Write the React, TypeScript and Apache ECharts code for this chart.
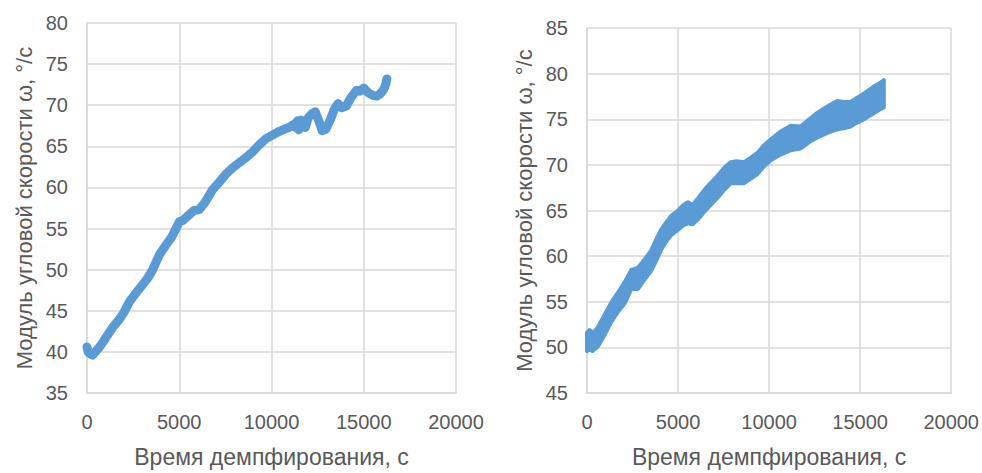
import React, { useEffect, useRef } from "react";
import * as echarts from "echarts";

// Left chart: single thick line
const leftTime = [0, 60, 150, 300, 450, 683, 900, 1100, 1400, 1700, 2000, 2300, 2600, 3020, 3300, 3560, 3920, 4280, 4600, 5000, 5200, 5500, 5800, 6080, 6400, 6800, 7150, 7520, 7900, 8240, 8600, 8960, 9300, 9680, 10000, 10400, 10700, 10950, 11150, 11300, 11400, 11480, 11600, 11700, 11830, 12000, 12200, 12370, 12550, 12750, 12950, 13200, 13400, 13600, 13800, 14050, 14300, 14600, 14800, 15000, 15250, 15500, 15700, 15900, 16100, 16200, 16250];
const leftOmega = [40.6, 40.0, 39.8, 39.6, 40.0, 40.6, 41.3, 42.0, 43.0, 43.8, 44.8, 46.1, 47.0, 48.2, 49.0, 50.0, 51.8, 53.0, 54.0, 55.8, 56.0, 56.6, 57.2, 57.3, 58.2, 59.7, 60.6, 61.6, 62.4, 63.0, 63.6, 64.3, 65.1, 65.9, 66.3, 66.8, 67.1, 67.3, 67.6, 67.3, 68.1, 67.0, 68.2, 67.4, 67.3, 68.5, 69.0, 69.2, 68.2, 66.9, 67.1, 68.3, 69.5, 70.2, 69.7, 69.9, 70.9, 71.8, 71.7, 72.1, 71.5, 71.2, 71.1, 71.4, 72.0, 72.6, 73.2];

// Right chart: band (lower / upper envelope)
const rightTime = [0, 150, 300, 600, 1000, 1330, 1700, 2060, 2430, 2790, 3150, 3520, 3800, 4070, 4350, 4620, 5000, 5300, 5550, 5800, 6080, 6500, 7170, 7550, 7900, 8200, 8630, 9000, 9360, 9700, 10090, 10600, 11190, 11730, 12200, 12650, 13200, 13740, 14100, 14470, 14800, 15200, 15700, 16100, 16300];
const rightLower = [49.6, 49.8, 49.6, 50.1, 51.5, 52.8, 53.9, 54.8, 56.4, 56.4, 57.4, 58.4, 59.5, 60.7, 61.6, 62.3, 62.9, 63.4, 63.6, 63.5, 64.0, 65.0, 66.4, 67.3, 68.0, 68.0, 68.0, 68.5, 69.0, 69.8, 70.5, 71.1, 71.6, 71.8, 72.5, 73.0, 73.5, 73.9, 74.0, 74.2, 74.6, 75.0, 75.6, 76.1, 76.3];
const rightUpper = [51.6, 51.9, 51.5, 52.2, 53.7, 54.9, 56.0, 57.1, 58.5, 58.7, 59.6, 60.6, 61.8, 62.9, 63.7, 64.4, 65.0, 65.6, 65.9, 65.6, 66.3, 67.4, 68.8, 69.7, 70.3, 70.4, 70.3, 70.8, 71.3, 72.1, 72.8, 73.6, 74.3, 74.2, 75.0, 75.7, 76.4, 77.0, 76.9, 76.9, 77.3, 77.8, 78.5, 79.0, 79.3];

const xTicks = { min: 0, max: 20000, interval: 5000 };
const leftY = { min: 35, max: 80, interval: 5 };
const rightY = { min: 45, max: 85, interval: 5 };

const xName = "Время демпфирования, с";
const yName = "Модуль угловой скорости ω, °/с";

const BLUE = "#5B9BD5";
const GRID = "#d9d9d9";
const TEXT = "#595959";
const FONT = "Liberation Sans";

function xAxis(gridIndex: number) {
  return {
    type: "value" as const,
    gridIndex,
    ...xTicks,
    name: xName,
    nameLocation: "middle" as const,
    nameGap: 52,
    nameTextStyle: { color: TEXT, fontSize: 23, fontFamily: FONT },
    axisLine: { show: true, lineStyle: { color: GRID, width: 1.5 } },
    axisTick: { show: false },
    axisLabel: {
      color: TEXT,
      fontSize: 20,
      fontFamily: FONT,
      margin: 19,
      formatter: (v: number) => String(v),
    },
    splitLine: { show: true, lineStyle: { color: GRID, width: 1.5 } },
  };
}

function yAxis(gridIndex: number, r: { min: number; max: number; interval: number }, gap: number) {
  return {
    type: "value" as const,
    gridIndex,
    ...r,
    name: yName,
    nameLocation: "middle" as const,
    nameGap: gap,
    nameTextStyle: { color: TEXT, fontSize: 22, fontFamily: FONT },
    axisLine: { show: true, lineStyle: { color: GRID, width: 1.5 } },
    axisTick: { show: false },
    axisLabel: { color: TEXT, fontSize: 20, fontFamily: FONT, margin: 19 },
    splitLine: { show: true, lineStyle: { color: GRID, width: 1.5 } },
  };
}

export default function App() {
  const ref = useRef<HTMLDivElement>(null);
  useEffect(() => {
    if (!ref.current) return;
    const chart = echarts.init(ref.current, undefined, { renderer: "svg" });
    const leftData = leftTime.map((t, i) => [t, leftOmega[i]]);
    chart.setOption({
      animation: false,
      backgroundColor: "#ffffff",
      grid: [
        { left: 87, top: 23, width: 369, height: 373 },
        { left: 587, top: 28, width: 365, height: 369 },
      ],
      xAxis: [xAxis(0), xAxis(1)],
      yAxis: [yAxis(0, leftY, 52), yAxis(1, rightY, 52)],
      series: [
        {
          type: "line",
          xAxisIndex: 0,
          yAxisIndex: 0,
          data: leftData,
          showSymbol: false,
          symbol: "none",
          lineStyle: { color: BLUE, width: 9, cap: "round", join: "round" },
        },
        {
          type: "custom",
          xAxisIndex: 1,
          yAxisIndex: 1,
          data: [[rightTime[0], rightLower[0]]],
          renderItem: (_params: any, api: any) => {
            const pts: number[][] = [];
            for (let i = 0; i < rightTime.length; i++) pts.push(api.coord([rightTime[i], rightUpper[i]]));
            for (let i = rightTime.length - 1; i >= 0; i--) pts.push(api.coord([rightTime[i], rightLower[i]]));
            return {
              type: "polygon",
              shape: { points: pts },
              style: { fill: BLUE, stroke: BLUE, lineWidth: 4, lineJoin: "round" },
            };
          },
        },
      ],
    });
    return () => chart.dispose();
  }, []);
  return (
    <div
      ref={ref}
      style={{ position: "absolute", left: 0, top: 0, width: 982, height: 473, background: "#fff" }}
    />
  );
}
